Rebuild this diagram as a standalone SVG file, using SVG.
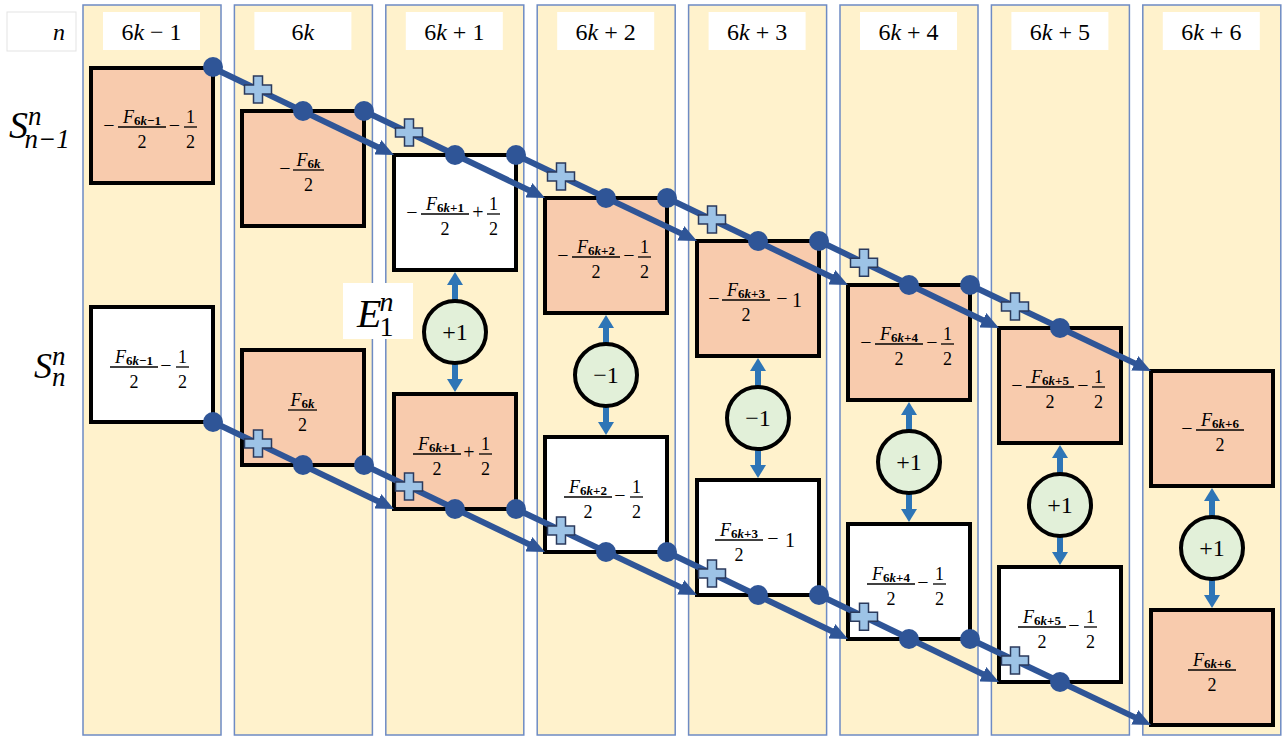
<svg xmlns="http://www.w3.org/2000/svg" width="1283" height="738" viewBox="0 0 1283 738">
<style>
.col{fill:#FFF2CC;stroke:#6E8BC4;stroke-width:1.5}
.hdr{fill:#FFFFFF;stroke:none}
.t{font-family:"Liberation Serif","DejaVu Serif",serif;fill:#000}
.ht{font-size:24px;text-anchor:middle}
.it{font-style:italic}
.bx{stroke:#000;stroke-width:4}
.sal{fill:#F8CBAD}
.wh{fill:#FFFFFF}
.num{font-size:18px;font-style:italic;text-anchor:middle}
.sub{font-size:13px;font-weight:bold;font-style:normal}
.den{font-size:18px;text-anchor:middle}
.op{font-size:20px;text-anchor:middle}
.one{font-size:20px;text-anchor:middle}
.bar{stroke:#000;stroke-width:1.3}
.circ{fill:#E2F0D9;stroke:#000;stroke-width:4}
.cl{font-size:24px;text-anchor:middle}
.va{stroke:#2E75B6;stroke-width:6;marker-end:url(#varr)}
.dg{stroke:#2F5597;stroke-width:6;marker-end:url(#darr)}
.dot{fill:#2F5597}
</style>
<defs>
<marker id="varr" viewBox="0 0 13 16" refX="4" refY="8" markerWidth="13" markerHeight="16" markerUnits="userSpaceOnUse" orient="auto"><path d="M0,0 L13,8 L0,16 z" fill="#2E75B6"/></marker>
<marker id="darr" viewBox="0 0 18 16" refX="6" refY="8" markerWidth="18" markerHeight="16" markerUnits="userSpaceOnUse" orient="auto"><path d="M0,0 L18,8 L0,16 z" fill="#2F5597"/></marker>
<path id="plus" d="M-4.5,-13.5 h9 v9 h9 v9 h-9 v9 h-9 v-9 h-9 v-9 h9 z" fill="#9DC3E6" stroke="#2B3A5C" stroke-width="1.5"/>
</defs>

<g id="columns">
<rect class="col" x="83" y="5" width="138" height="730"/>
<rect class="col" x="234.4" y="5" width="138" height="730"/>
<rect class="col" x="385.8" y="5" width="138" height="730"/>
<rect class="col" x="537.2" y="5" width="138" height="730"/>
<rect class="col" x="688.6" y="5" width="138" height="730"/>
<rect class="col" x="840" y="5" width="138" height="730"/>
<rect class="col" x="991.4" y="5" width="138" height="730"/>
<rect class="col" x="1142.8" y="5" width="138" height="730"/>
</g>

<g id="header">
<rect x="7" y="12" width="69" height="39" fill="#FFFFFF" stroke="#E3E3E3" stroke-width="1"/>
<text class="t ht it" x="59" y="40">n</text>
<rect class="hdr" x="103" y="12" width="97" height="38"/>
<text class="t ht" x="151.5" y="40">6<tspan class="it">k</tspan> − 1</text>
<rect class="hdr" x="254.4" y="12" width="97" height="38"/>
<text class="t ht" x="302.9" y="40">6<tspan class="it">k</tspan></text>
<rect class="hdr" x="405.8" y="12" width="97" height="38"/>
<text class="t ht" x="454.3" y="40">6<tspan class="it">k</tspan> + 1</text>
<rect class="hdr" x="557.2" y="12" width="97" height="38"/>
<text class="t ht" x="605.7" y="40">6<tspan class="it">k</tspan> + 2</text>
<rect class="hdr" x="708.6" y="12" width="97" height="38"/>
<text class="t ht" x="757.1" y="40">6<tspan class="it">k</tspan> + 3</text>
<rect class="hdr" x="860" y="12" width="97" height="38"/>
<text class="t ht" x="908.5" y="40">6<tspan class="it">k</tspan> + 4</text>
<rect class="hdr" x="1011.4" y="12" width="97" height="38"/>
<text class="t ht" x="1059.9" y="40">6<tspan class="it">k</tspan> + 5</text>
<rect class="hdr" x="1162.8" y="12" width="97" height="38"/>
<text class="t ht" x="1211.3" y="40">6<tspan class="it">k</tspan> + 6</text>
</g>

<g id="row-labels">
<text class="t it" x="9" y="138" font-size="38">S<tspan font-size="27" dy="-13">n</tspan><tspan font-size="27" dx="-17" dy="23">n−1</tspan></text>
<text class="t it" x="34" y="378" font-size="36">S<tspan font-size="27" dy="-13">n</tspan><tspan font-size="27" dx="-13.5" dy="21">n</tspan></text>
</g>

<g id="label-E">
<rect x="343" y="283" width="70" height="56" fill="#FFFFFF"/>
<text class="t it" x="357" y="327" font-size="40">E<tspan font-size="28" dx="-2" dy="-16">n</tspan><tspan font-size="28" font-style="normal" dx="-14" dy="25">1</tspan></text>
</g>

<g id="vertical-arrows">
<line class="va" x1="455" y1="300" x2="455" y2="281"/>
<line class="va" x1="455" y1="364" x2="455" y2="383"/>
<line class="va" x1="606" y1="343" x2="606" y2="324"/>
<line class="va" x1="606" y1="407" x2="606" y2="426"/>
<line class="va" x1="758" y1="386" x2="758" y2="367"/>
<line class="va" x1="758" y1="450" x2="758" y2="469"/>
<line class="va" x1="909" y1="430" x2="909" y2="411"/>
<line class="va" x1="909" y1="494" x2="909" y2="513"/>
<line class="va" x1="1060" y1="473" x2="1060" y2="454"/>
<line class="va" x1="1060" y1="537" x2="1060" y2="556"/>
<line class="va" x1="1212" y1="516" x2="1212" y2="497"/>
<line class="va" x1="1212" y1="580" x2="1212" y2="599"/>
</g>

<g id="box-top-1">
<rect class="bx sal" x="91" y="68" width="122" height="115"/>
<text class="t op" x="109" y="132">−</text>
<line class="bar" x1="118" y1="127" x2="166" y2="127"/>
<text class="t num" x="142" y="123">F<tspan class="sub" dy="2">6<tspan class="it">k</tspan>−1</tspan></text>
<text class="t den" x="142" y="148">2</text>
<text class="t op" x="174.5" y="132">−</text>
<line class="bar" x1="184" y1="127" x2="197" y2="127"/>
<text class="t den" x="190.5" y="123">1</text>
<text class="t den" x="190.5" y="148">2</text>
</g>
<g id="box-bottom-1">
<rect class="bx wh" x="91" y="307" width="122" height="115"/>
<line class="bar" x1="110" y1="367" x2="158" y2="367"/>
<text class="t num" x="134" y="363">F<tspan class="sub" dy="2">6<tspan class="it">k</tspan>−1</tspan></text>
<text class="t den" x="134" y="388">2</text>
<text class="t op" x="166" y="372">−</text>
<line class="bar" x1="176" y1="367" x2="189" y2="367"/>
<text class="t den" x="182.5" y="363">1</text>
<text class="t den" x="182.5" y="388">2</text>
</g>

<g id="box-top-2">
<rect class="bx sal" x="242" y="111" width="122" height="115"/>
<text class="t op" x="285" y="175">−</text>
<line class="bar" x1="293" y1="170" x2="324" y2="170"/>
<text class="t num" x="308.5" y="166">F<tspan class="sub" dy="2">6<tspan class="it">k</tspan></tspan></text>
<text class="t den" x="308.5" y="191">2</text>
</g>
<g id="box-bottom-2">
<rect class="bx sal" x="242" y="350" width="122" height="115"/>
<line class="bar" x1="288" y1="410" x2="317" y2="410"/>
<text class="t num" x="302.5" y="406">F<tspan class="sub" dy="2">6<tspan class="it">k</tspan></tspan></text>
<text class="t den" x="302.5" y="431">2</text>
</g>

<g id="box-top-3">
<rect class="bx wh" x="394" y="155" width="122" height="115"/>
<text class="t op" x="412" y="219">−</text>
<line class="bar" x1="421" y1="214" x2="469" y2="214"/>
<text class="t num" x="445" y="210">F<tspan class="sub" dy="2">6<tspan class="it">k</tspan>+1</tspan></text>
<text class="t den" x="445" y="235">2</text>
<text class="t op" x="478" y="219">+</text>
<line class="bar" x1="487" y1="214" x2="500" y2="214"/>
<text class="t den" x="493.5" y="210">1</text>
<text class="t den" x="493.5" y="235">2</text>
</g>
<g id="box-bottom-3">
<rect class="bx sal" x="394" y="394" width="122" height="115"/>
<line class="bar" x1="413" y1="454" x2="461" y2="454"/>
<text class="t num" x="437" y="450">F<tspan class="sub" dy="2">6<tspan class="it">k</tspan>+1</tspan></text>
<text class="t den" x="437" y="475">2</text>
<text class="t op" x="469" y="459">+</text>
<line class="bar" x1="479" y1="454" x2="492" y2="454"/>
<text class="t den" x="485.5" y="450">1</text>
<text class="t den" x="485.5" y="475">2</text>
</g>

<g id="box-top-4">
<rect class="bx sal" x="545" y="198" width="122" height="115"/>
<text class="t op" x="563" y="262">−</text>
<line class="bar" x1="572" y1="257" x2="620" y2="257"/>
<text class="t num" x="596" y="253">F<tspan class="sub" dy="2">6<tspan class="it">k</tspan>+2</tspan></text>
<text class="t den" x="596" y="278">2</text>
<text class="t op" x="629" y="262">−</text>
<line class="bar" x1="638" y1="257" x2="651" y2="257"/>
<text class="t den" x="644.5" y="253">1</text>
<text class="t den" x="644.5" y="278">2</text>
</g>
<g id="box-bottom-4">
<rect class="bx wh" x="545" y="437" width="122" height="115"/>
<line class="bar" x1="564" y1="497" x2="612" y2="497"/>
<text class="t num" x="588" y="493">F<tspan class="sub" dy="2">6<tspan class="it">k</tspan>+2</tspan></text>
<text class="t den" x="588" y="518">2</text>
<text class="t op" x="620" y="502">−</text>
<line class="bar" x1="630" y1="497" x2="643" y2="497"/>
<text class="t den" x="636.5" y="493">1</text>
<text class="t den" x="636.5" y="518">2</text>
</g>

<g id="box-top-5">
<rect class="bx sal" x="697" y="241" width="122" height="115"/>
<text class="t op" x="714" y="305">−</text>
<line class="bar" x1="722" y1="300" x2="770" y2="300"/>
<text class="t num" x="746" y="296">F<tspan class="sub" dy="2">6<tspan class="it">k</tspan>+3</tspan></text>
<text class="t den" x="746" y="321">2</text>
<text class="t op" x="782" y="305">−</text>
<text class="t one" x="797" y="307">1</text>
</g>
<g id="box-bottom-5">
<rect class="bx wh" x="697" y="480" width="122" height="115"/>
<line class="bar" x1="715" y1="540" x2="763" y2="540"/>
<text class="t num" x="739" y="536">F<tspan class="sub" dy="2">6<tspan class="it">k</tspan>+3</tspan></text>
<text class="t den" x="739" y="561">2</text>
<text class="t op" x="773" y="545">−</text>
<text class="t one" x="790" y="547">1</text>
</g>

<g id="box-top-6">
<rect class="bx sal" x="848" y="285" width="122" height="115"/>
<text class="t op" x="866" y="349">−</text>
<line class="bar" x1="875" y1="344" x2="923" y2="344"/>
<text class="t num" x="899" y="340">F<tspan class="sub" dy="2">6<tspan class="it">k</tspan>+4</tspan></text>
<text class="t den" x="899" y="365">2</text>
<text class="t op" x="932" y="349">−</text>
<line class="bar" x1="941" y1="344" x2="954" y2="344"/>
<text class="t den" x="947.5" y="340">1</text>
<text class="t den" x="947.5" y="365">2</text>
</g>
<g id="box-bottom-6">
<rect class="bx wh" x="848" y="524" width="122" height="115"/>
<line class="bar" x1="867" y1="584" x2="915" y2="584"/>
<text class="t num" x="891" y="580">F<tspan class="sub" dy="2">6<tspan class="it">k</tspan>+4</tspan></text>
<text class="t den" x="891" y="605">2</text>
<text class="t op" x="923" y="589">−</text>
<line class="bar" x1="933" y1="584" x2="946" y2="584"/>
<text class="t den" x="939.5" y="580">1</text>
<text class="t den" x="939.5" y="605">2</text>
</g>

<g id="box-top-7">
<rect class="bx sal" x="999" y="328" width="122" height="115"/>
<text class="t op" x="1017" y="392">−</text>
<line class="bar" x1="1026" y1="387" x2="1074" y2="387"/>
<text class="t num" x="1050" y="383">F<tspan class="sub" dy="2">6<tspan class="it">k</tspan>+5</tspan></text>
<text class="t den" x="1050" y="408">2</text>
<text class="t op" x="1083" y="392">−</text>
<line class="bar" x1="1092" y1="387" x2="1105" y2="387"/>
<text class="t den" x="1098.5" y="383">1</text>
<text class="t den" x="1098.5" y="408">2</text>
</g>
<g id="box-bottom-7">
<rect class="bx wh" x="999" y="567" width="122" height="115"/>
<line class="bar" x1="1018" y1="627" x2="1066" y2="627"/>
<text class="t num" x="1042" y="623">F<tspan class="sub" dy="2">6<tspan class="it">k</tspan>+5</tspan></text>
<text class="t den" x="1042" y="648">2</text>
<text class="t op" x="1074" y="632">−</text>
<line class="bar" x1="1084" y1="627" x2="1097" y2="627"/>
<text class="t den" x="1090.5" y="623">1</text>
<text class="t den" x="1090.5" y="648">2</text>
</g>

<g id="box-top-8">
<rect class="bx sal" x="1151" y="371" width="122" height="115"/>
<text class="t op" x="1187" y="435">−</text>
<line class="bar" x1="1196" y1="430" x2="1244" y2="430"/>
<text class="t num" x="1220" y="426">F<tspan class="sub" dy="2">6<tspan class="it">k</tspan>+6</tspan></text>
<text class="t den" x="1220" y="451">2</text>
</g>
<g id="box-bottom-8">
<rect class="bx sal" x="1151" y="610" width="122" height="115"/>
<line class="bar" x1="1188" y1="670" x2="1236" y2="670"/>
<text class="t num" x="1212" y="666">F<tspan class="sub" dy="2">6<tspan class="it">k</tspan>+6</tspan></text>
<text class="t den" x="1212" y="691">2</text>
</g>

<g id="op-3"><circle class="circ" cx="455" cy="332" r="31"/><text class="t cl" x="455" y="340">+1</text></g>
<g id="op-4"><circle class="circ" cx="606" cy="375" r="31"/><text class="t cl" x="606" y="383">−1</text></g>
<g id="op-5"><circle class="circ" cx="758" cy="418" r="31"/><text class="t cl" x="758" y="426">−1</text></g>
<g id="op-6"><circle class="circ" cx="909" cy="462" r="31"/><text class="t cl" x="909" y="470">+1</text></g>
<g id="op-7"><circle class="circ" cx="1060" cy="505" r="31"/><text class="t cl" x="1060" y="513">+1</text></g>
<g id="op-8"><circle class="circ" cx="1212" cy="548" r="31"/><text class="t cl" x="1212" y="556">+1</text></g>

<g id="connectors">
<line class="dg" x1="213" y1="68" x2="383.2" y2="149.8"/>
<line class="dg" x1="364" y1="111" x2="534.2" y2="192.8"/>
<line class="dg" x1="516" y1="155" x2="686.2" y2="235.9"/>
<line class="dg" x1="667" y1="198" x2="837.2" y2="279.8"/>
<line class="dg" x1="819" y1="241" x2="988.2" y2="322.8"/>
<line class="dg" x1="970" y1="285" x2="1140.2" y2="365.9"/>
<line class="dg" x1="213" y1="422" x2="383.2" y2="503.8"/>
<line class="dg" x1="364" y1="465" x2="534.2" y2="546.8"/>
<line class="dg" x1="516" y1="509" x2="686.2" y2="589.9"/>
<line class="dg" x1="667" y1="552" x2="837.2" y2="633.8"/>
<line class="dg" x1="819" y1="595" x2="988.2" y2="676.8"/>
<line class="dg" x1="970" y1="639" x2="1140.2" y2="719.9"/>
<circle class="dot" cx="213" cy="67" r="10"/>
<circle class="dot" cx="303" cy="111" r="10"/>
<circle class="dot" cx="364" cy="111" r="10"/>
<circle class="dot" cx="455" cy="155" r="10"/>
<circle class="dot" cx="516" cy="155" r="10"/>
<circle class="dot" cx="606" cy="198" r="10"/>
<circle class="dot" cx="667" cy="198" r="10"/>
<circle class="dot" cx="758" cy="241" r="10"/>
<circle class="dot" cx="819" cy="241" r="10"/>
<circle class="dot" cx="909" cy="285" r="10"/>
<circle class="dot" cx="970" cy="285" r="10"/>
<circle class="dot" cx="1060" cy="328" r="10"/>
<circle class="dot" cx="213" cy="422" r="10"/>
<circle class="dot" cx="303" cy="465" r="10"/>
<circle class="dot" cx="364" cy="465" r="10"/>
<circle class="dot" cx="455" cy="509" r="10"/>
<circle class="dot" cx="516" cy="509" r="10"/>
<circle class="dot" cx="606" cy="552" r="10"/>
<circle class="dot" cx="667" cy="552" r="10"/>
<circle class="dot" cx="758" cy="595" r="10"/>
<circle class="dot" cx="819" cy="595" r="10"/>
<circle class="dot" cx="909" cy="639" r="10"/>
<circle class="dot" cx="970" cy="639" r="10"/>
<circle class="dot" cx="1060" cy="682" r="10"/>
<use href="#plus" x="258" y="89.6"/>
<use href="#plus" x="409" y="132.6"/>
<use href="#plus" x="561" y="176.4"/>
<use href="#plus" x="712" y="219.6"/>
<use href="#plus" x="864" y="262.7"/>
<use href="#plus" x="1015" y="306.4"/>
<use href="#plus" x="258" y="443.6"/>
<use href="#plus" x="409" y="486.6"/>
<use href="#plus" x="561" y="530.4"/>
<use href="#plus" x="712" y="573.6"/>
<use href="#plus" x="864" y="616.7"/>
<use href="#plus" x="1015" y="660.4"/>
</g>
</svg>
